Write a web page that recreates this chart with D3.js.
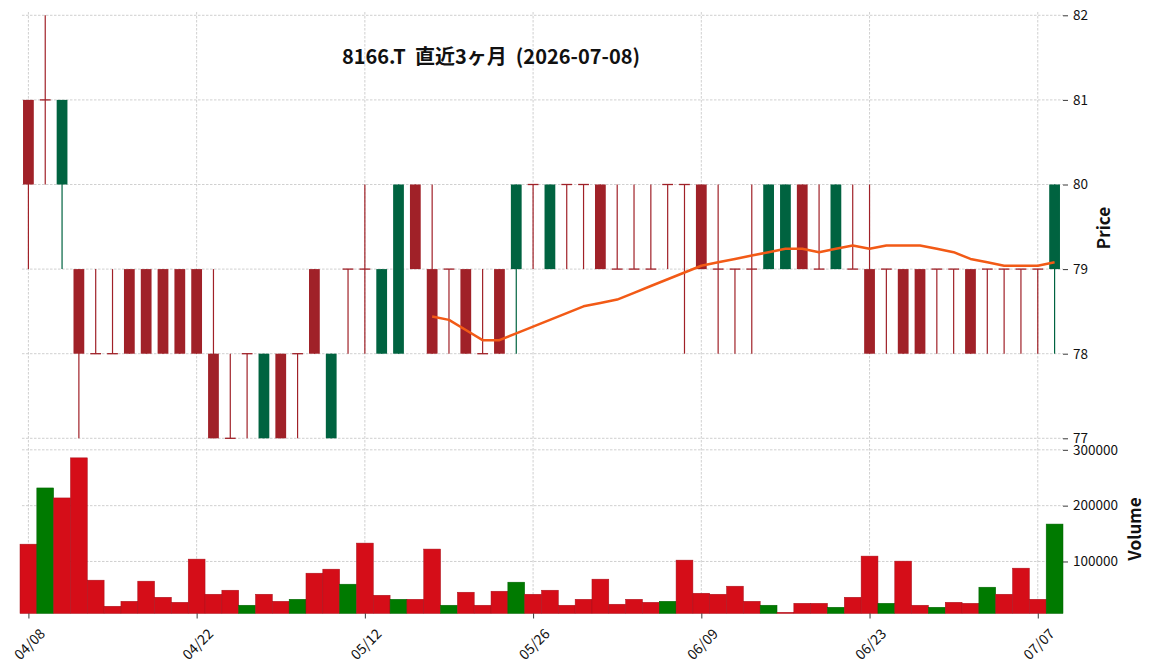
<!DOCTYPE html>
<html><head><meta charset="utf-8">
<script src="https://cdn.jsdelivr.net/npm/d3@7"></script>
<style>
body{margin:0;background:#fff}
text{font-family:"Noto Sans CJK JP","Noto Sans",sans-serif}
</style>
</head><body>
<svg id="c" width="1152" height="671"></svg>
<script>
const dates = ["2026-04-08","2026-04-09","2026-04-10","2026-04-13","2026-04-14","2026-04-15","2026-04-16","2026-04-17","2026-04-20","2026-04-21","2026-04-22","2026-04-23","2026-04-24","2026-04-27","2026-04-28","2026-04-30","2026-05-01","2026-05-07","2026-05-08","2026-05-11","2026-05-12","2026-05-13","2026-05-14","2026-05-15","2026-05-18","2026-05-19","2026-05-20","2026-05-21","2026-05-22","2026-05-25","2026-05-26","2026-05-27","2026-05-28","2026-05-29","2026-06-01","2026-06-02","2026-06-03","2026-06-04","2026-06-05","2026-06-08","2026-06-09","2026-06-10","2026-06-11","2026-06-12","2026-06-15","2026-06-16","2026-06-17","2026-06-18","2026-06-19","2026-06-22","2026-06-23","2026-06-24","2026-06-25","2026-06-26","2026-06-29","2026-06-30","2026-07-01","2026-07-02","2026-07-03","2026-07-06","2026-07-07","2026-07-08"];
const opens  = [81,81,80,79,78,78,79,79,79,79,79,78,77,78,77,78,78,79,77,79,79,78,78,80,79,79,79,78,79,79,80,79,80,80,80,79,79,79,80,80,80,79,79,79,79,79,80,79,79,79,79,79,79,79,79,79,79,79,79,79,79,79];
const highs  = [81,82,81,79,79,79,79,79,79,79,79,79,78,78,78,78,78,79,78,79,80,79,80,80,80,79,79,79,79,80,80,80,80,80,80,80,80,80,80,80,80,80,79,80,80,80,80,80,80,80,80,79,79,79,79,79,79,79,79,79,79,80];
const lows   = [79,80,79,77,78,78,78,78,78,78,78,77,77,77,77,77,77,78,77,78,78,78,78,79,78,78,78,78,78,78,79,79,79,79,79,79,79,79,79,78,79,78,78,78,79,79,79,79,79,79,78,78,78,78,78,78,78,78,78,78,78,78];
const closes = [80,81,81,78,78,78,78,78,78,78,78,77,77,78,78,77,78,78,78,79,79,79,80,79,78,79,78,78,78,80,80,80,80,80,79,79,79,79,80,80,79,79,79,79,80,80,79,79,80,79,78,79,78,78,79,79,78,79,79,79,79,80];
const volumes = [131000,231700,213800,285600,66500,19800,28700,64700,35900,26900,
                 104200,41300,48500,21600,41300,28700,32300,79000,86200,59300,
                 132900,39500,32300,32300,122200,21600,44900,21600,46700,62900,
                 41300,48500,21600,32300,68300,23400,32300,26900,28700,102400,
                 43100,41300,55700,28700,21600,9000,25100,25100,18000,35900,
                 109600,25100,100600,21600,18000,26900,25100,53900,41300,88000,
                 32300,167000];
const maStart = 24;
const ma25 = [78.44,78.40,78.28,78.16,78.16,78.24,78.32,78.40,78.48,78.56,78.60,78.64,78.72,78.80,78.88,78.96,79.04,79.08,79.12,79.16,79.20,79.24,79.24,79.20,79.24,79.28,79.24,79.28,79.28,79.28,79.24,79.20,79.12,79.08,79.04,79.04,79.04,79.08];
const priceTicks = [77,78,79,80,81,82];
const volumeTicks = [100000,200000,300000];
const xTickIdx = [0,10,20,30,40,50,60];
const title = "8166.T  直近3ヶ月  (2026-07-08)";

const svg = d3.select("#c");
const L = 20, R = 1063;
const x = d3.scaleLinear().domain([-0.5, dates.length - 0.5]).range([L, R]);
const step = x(1) - x(0);
const yP = d3.scaleLinear().domain([77, 82]).range([438.3, 15.3]);
const yV = d3.scaleLinear().domain([6800, 314000]).range([613.5, 442]);
const volBottom = yV.range()[0];

const gridColor = "#c4c4c4";
const upC = "#006340", dnC = "#a02128";
const vUp = "#007a00", vDn = "#d50d18";

// grids
const gGrid = svg.append("g");
gGrid.selectAll(".hp").data(priceTicks).join("line")
  .attr("x1", 22).attr("x2", R).attr("y1", d => yP(d)).attr("y2", d => yP(d))
  .attr("stroke", gridColor).attr("stroke-width", 0.8).attr("stroke-dasharray", "2.5,1.5");
gGrid.selectAll(".hv").data(volumeTicks).join("line")
  .attr("x1", 22).attr("x2", R).attr("y1", d => yV(d)).attr("y2", d => yV(d))
  .attr("stroke", gridColor).attr("stroke-width", 0.8).attr("stroke-dasharray", "2.5,1.5");
gGrid.selectAll(".vx").data(xTickIdx).join("line")
  .attr("x1", d => x(d)).attr("x2", d => x(d)).attr("y1", 12).attr("y2", volBottom)
  .attr("stroke", gridColor).attr("stroke-width", 0.8).attr("stroke-dasharray", "2.5,1.5");

// volume bars
const vcol = (i) => (i > 0 && closes[i] > closes[i-1]) ? vUp : vDn;
svg.append("g").selectAll("rect").data(volumes).join("rect")
  .attr("x", (d, i) => x(i) - step / 2).attr("width", step)
  .attr("y", d => yV(d)).attr("height", d => volBottom - yV(d))
  .attr("fill", (d, i) => vcol(i))
  .attr("stroke", (d, i) => vcol(i) === vUp ? "#006200" : "#a8101a")
  .attr("stroke-width", 0.5);

// candles
const bw = step * 0.64;
const cc = i => closes[i] > opens[i] ? upC : dnC;
const gC = svg.append("g");
const idx = d3.range(dates.length);
gC.selectAll(".wick").data(idx).join("line")
  .attr("x1", i => x(i)).attr("x2", i => x(i))
  .attr("y1", i => yP(highs[i])).attr("y2", i => yP(lows[i]))
  .attr("stroke", i => cc(i)).attr("stroke-width", 1.2);
gC.selectAll(".body").data(idx.filter(i => opens[i] !== closes[i])).join("rect")
  .attr("x", i => x(i) - bw / 2).attr("width", bw)
  .attr("y", i => yP(Math.max(opens[i], closes[i])))
  .attr("height", i => Math.abs(yP(opens[i]) - yP(closes[i])))
  .attr("fill", i => cc(i));
gC.selectAll(".doji").data(idx.filter(i => opens[i] === closes[i])).join("line")
  .attr("x1", i => x(i) - bw / 2).attr("x2", i => x(i) + bw / 2)
  .attr("y1", i => yP(opens[i])).attr("y2", i => yP(opens[i]))
  .attr("stroke", i => cc(i)).attr("stroke-width", 1.3);

// moving average
const line = d3.line().x((d, k) => x(maStart + k)).y(d => yP(d));
svg.append("path").datum(ma25).attr("d", line)
  .attr("fill", "none").attr("stroke", "#f25a16").attr("stroke-width", 2.5)
  .attr("stroke-linejoin", "round");

// axes
const styleAxis = (fs) => g => {
  g.select(".domain").remove();
  g.selectAll(".tick line").attr("stroke", "#222").attr("stroke-width", 0.9);
  g.selectAll(".tick text").attr("fill", "#111").attr("font-size", fs)
    .attr("font-family", '"Noto Sans CJK JP","Noto Sans",sans-serif');
};
svg.append("g").attr("transform", `translate(${R},0)`)
  .call(d3.axisRight(yP).tickValues(priceTicks).tickSize(5).tickPadding(5).tickFormat(d3.format("d")))
  .call(styleAxis(13.5));
svg.append("g").attr("transform", `translate(${R},0)`)
  .call(d3.axisRight(yV).tickValues(volumeTicks).tickSize(5).tickPadding(5).tickFormat(d3.format("d")))
  .call(styleAxis(13.5));
const fmt = s => s.slice(5, 7) + "/" + s.slice(8, 10);
const gx = svg.append("g").attr("transform", `translate(0,${volBottom})`)
  .call(d3.axisBottom(x).tickValues(xTickIdx).tickSize(5).tickFormat(i => fmt(dates[i])))
  .call(styleAxis(14));
gx.selectAll(".tick text")
  .attr("text-anchor", "middle").attr("dy", null).attr("y", null)
  .attr("dominant-baseline", "central")
  .attr("transform", "translate(0,30) rotate(-45)");

// labels
svg.append("text").attr("transform", "translate(1102,228) rotate(-90)")
  .attr("text-anchor", "middle").attr("dominant-baseline", "central")
  .attr("font-size", 17).attr("font-weight", "bold").attr("fill", "#111").text("Price");
svg.append("text").attr("transform", "translate(1133,529) rotate(-90)")
  .attr("text-anchor", "middle").attr("dominant-baseline", "central")
  .attr("font-size", 17).attr("font-weight", "bold").attr("fill", "#111").text("Volume");
svg.append("text").attr("x", 491).attr("y", 64)
  .attr("text-anchor", "middle").attr("font-size", 20).attr("font-weight", "bold")
  .attr("fill", "#111").attr("xml:space", "preserve").style("white-space", "pre").text(title);
</script>
</body></html>
